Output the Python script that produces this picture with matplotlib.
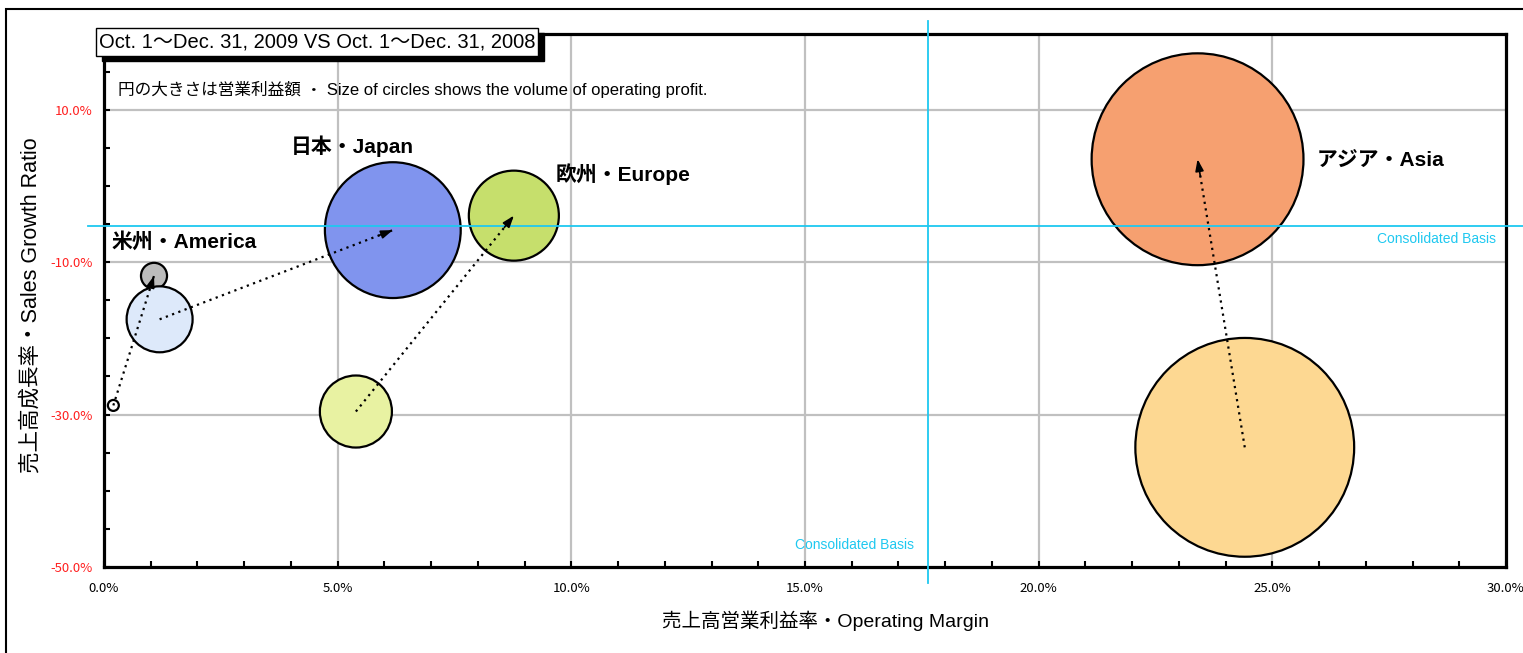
import matplotlib
matplotlib.use("Agg")
import matplotlib.pyplot as plt
from matplotlib.patches import Rectangle
import numpy as np

plt.rcParams['font.family'] = ['Noto Sans CJK JP', 'DejaVu Sans']
LAT = ['Liberation Sans', 'Noto Sans CJK JP']

# regions, (operating margin %, sales growth %, operating profit in relative units)
regions = ['America', 'Japan', 'Europe', 'Asia']
labels = ['米州・America', '日本・Japan', '欧州・Europe', 'アジア・Asia']
margin_2008 = [0.20, 1.19, 5.39, 24.41]
growth_2008 = [-28.8, -17.5, -29.6, -34.3]
profit_2008 = [3, 109, 130, 1199]
margin_2009 = [1.07, 6.18, 8.77, 23.40]
growth_2009 = [-11.8, -5.8, -3.9, 3.5]
profit_2009 = [17, 462, 203, 1124]
colors_2008 = ['#ffffff', '#dde9fa', '#e8f2a2', '#fdd892']
colors_2009 = ['#bcbcbc', '#8094ee', '#c6df6c', '#f6a070']

label_pos = [(0.17, -7.3), (4.0, 5.15), (9.67, 1.5), (25.94, 3.3)]

consolidated_margin = 17.63
consolidated_growth = -5.3

x_ticks = [0, 5, 10, 15, 20, 25, 30]
y_ticks = [10, -10, -30, -50]

fig = plt.figure(figsize=(15.23, 6.53), dpi=100)
W, H = 1523, 653
ax = fig.add_axes([104 / W, 1 - 567 / H, (1506 - 104) / W, (567 - 33.5) / H])
ax.set_xlim(0, 30)
ax.set_ylim(-50, 20)

# grid
for gx in [5, 10, 15, 20, 25]:
    ax.axvline(gx, color='#c0c0c0', lw=1.6, zorder=1)
for gy in [10, -10, -30]:
    ax.axhline(gy, color='#c0c0c0', lw=1.6, zorder=1)

# bubbles: 2009 first so 2008 Japan sits over America 2009
k = 20.7
ax.scatter(margin_2009, growth_2009, s=np.array(profit_2009) * k, c=colors_2009,
           edgecolors='black', linewidths=1.6, zorder=3)
ax.scatter(margin_2008, growth_2008, s=np.array(profit_2008) * k, c=colors_2008,
           edgecolors='black', linewidths=1.6, zorder=4)

# consolidated lines
ax.plot([consolidated_margin, consolidated_margin], [-52.1, 21.7], color='#1ec8f0',
        lw=1.3, zorder=5, clip_on=False)
ax.plot([-0.35, 30.5], [consolidated_growth, consolidated_growth], color='#1ec8f0',
        lw=1.3, zorder=5, clip_on=False)
ax.text(29.79, -6.9, 'Consolidated Basis', color='#1ec8f0', fontsize=10, family=LAT,
        ha='right', va='center', zorder=6)
ax.text(14.79, -47.1, 'Consolidated Basis', color='#1ec8f0', fontsize=10, family=LAT,
        ha='left', va='center', zorder=6)

# arrows 2008 -> 2009
for i in range(len(regions)):
    x0, y0 = margin_2008[i], growth_2008[i]
    x1, y1 = margin_2009[i], growth_2009[i]
    ax.plot([x0, x1], [y0, y1], color='black', lw=1.6, ls=(0, (1, 2)), zorder=7)
    xs = x1 - 0.06 * (x1 - x0)
    ys = y1 - 0.06 * (y1 - y0)
    ax.annotate('', xy=(x1, y1), xytext=(xs, ys),
                arrowprops=dict(arrowstyle='-|>,head_length=0.7,head_width=0.25',
                                color='black', lw=1.2, shrinkA=0, shrinkB=0),
                zorder=8)

for (lx, ly), lab in zip(label_pos, labels):
    ax.text(lx, ly, lab, fontsize=15, fontweight='bold', family=LAT,
            ha='left', va='center', zorder=9)

ax.text(0.3, 12.6, '円の大きさは営業利益額 ・ Size of circles shows the volume of operating profit.',
        fontsize=12, family=LAT, ha='left', va='center', zorder=9)

# axes styling
for sp in ax.spines.values():
    sp.set_linewidth(2.3)
    sp.set_color('black')
ax.set_xticks(x_ticks)
ax.set_xticklabels(['%.1f%%' % v for v in x_ticks])
ax.set_xticks(np.arange(0, 31, 1), minor=True)
ax.set_yticks(y_ticks)
ax.set_yticklabels(['%.1f%%' % v for v in y_ticks], color='#ff2020')
ax.set_yticks(np.arange(-50, 21, 5), minor=True)
ax.tick_params(axis='both', which='both', direction='in', length=4, width=1.5,
               labelsize=9.5)
ax.tick_params(axis='x', which='major', pad=11)
ax.tick_params(axis='y', which='major', pad=8)
ax.tick_params(right=False, top=False)

fig.text(825 / W, 1 - 621 / H, '売上高営業利益率・Operating Margin', fontsize=14,
         family=LAT, ha='center', va='center')
fig.text(31 / W, 1 - 305 / H, '売上高成長率・Sales Growth Ratio', fontsize=15.5,
         family=LAT, ha='center', va='center', rotation=90)

# outer frame
fig.patches.append(Rectangle((6 / W, -0.1), 1.2, 1 - 9 / H + 0.1, transform=fig.transFigure,
                             fill=False, edgecolor='black', lw=1.5))

# title box with shadow
bx, by, bw, bh = 96 / W, 1 - 55.5 / H, 442 / W, 28 / H
fig.patches.append(Rectangle((bx + 6 / W, by - 5 / H), bw, bh, transform=fig.transFigure,
                             facecolor='black', edgecolor='black', zorder=10))
fig.patches.append(Rectangle((bx, by), bw, bh, transform=fig.transFigure,
                             facecolor='white', edgecolor='black', lw=1.0, zorder=11))
fig.text(bx + bw / 2, by + bh / 2, 'Oct. 1〜Dec. 31, 2009 VS Oct. 1〜Dec. 31, 2008',
         fontsize=14.5, family=LAT, ha='center', va='center', zorder=12)

fig.savefig('out.png', dpi=100)
